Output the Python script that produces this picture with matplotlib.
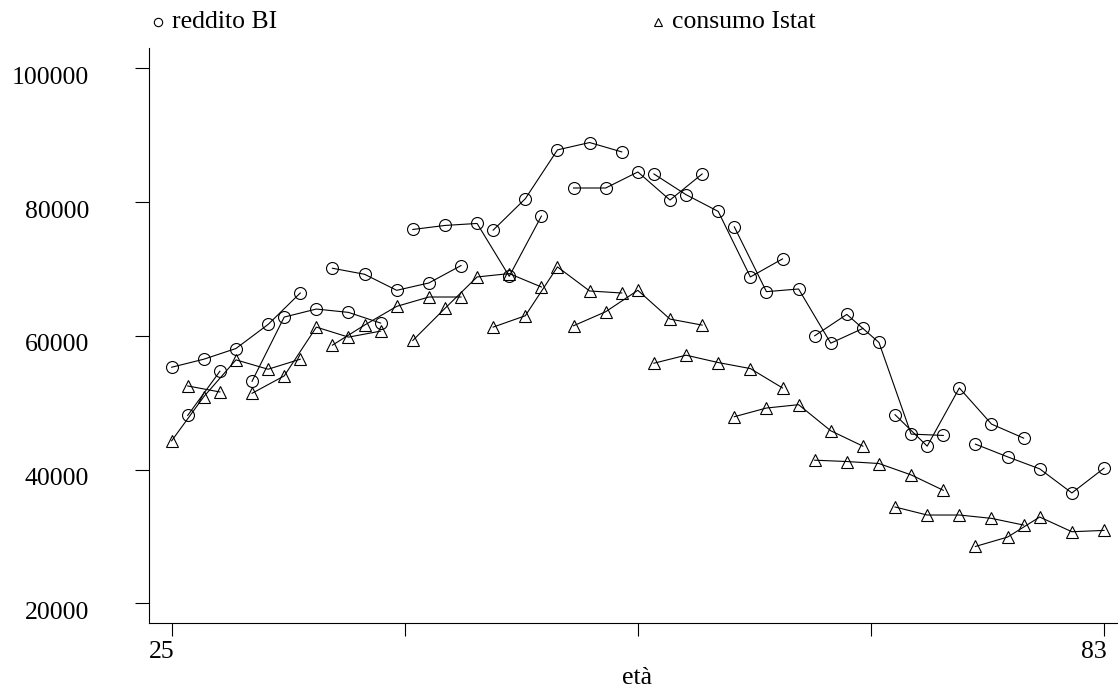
import matplotlib
matplotlib.use("Agg")
import matplotlib.pyplot as plt
import matplotlib.transforms as mtransforms
from matplotlib.lines import Line2D

plt.rcParams['font.family'] = ['Liberation Serif', 'DejaVu Serif']

# cohort ages (one list per cohort)
ages = [
    [25, 27, 29, 31, 33],
    [26, 28],
    [30, 32, 34, 36, 38],
    [35, 37, 39, 41, 43],
    [40, 42, 44, 46, 48],
    [45, 47, 49, 51, 53],
    [50, 52, 54, 56, 58],
    [55, 57, 59, 61, 63],
    [60, 62, 64, 66, 68],
    [65, 67, 69, 71, 73],
    [70, 72, 74, 76, 78],
    [75, 77, 79, 81, 83],
]

# reddito BI (circles)
reddito = [
    [55300, 56500, 58100, 61700, 66400],
    [48100, 54700],
    [53200, 62800, 64000, 63500, 61900],
    [70100, 69200, 66800, 67900, 70500],
    [75900, 76500, 76800, 68900, 77900],
    [75800, 80500, 87800, 88900, 87500],
    [82100, 82100, 84500, 80300, 84200],
    [84200, 81100, 78600, 68800, 71500],
    [76300, 66600, 67000, 58900, 61100],
    [60000, 63200, 59000, 45300, 45100],
    [48200, 43500, 52200, 46800, 44700],
    [43800, 41900, 40100, 36500, 40200],
]

# consumo Istat (triangles)
consumo = [
    [44300, 50900, 56400, 55000, 56500],
    [52500, 51600],
    [51400, 54000, 61300, 59800, 60700],
    [58600, 61600, 64400, 65800, 65800],
    [59300, 64100, 68800, 69300, 67300],
    [61300, 63000, 70300, 66700, 66400],
    [61500, 63600, 66800, 62500, 61600],
    [55900, 57100, 56000, 55100, 52200],
    [47900, 49200, 49700, 45800, 43500],
    [41400, 41200, 40900, 39200, 36900],
    [34400, 33200, 33200, 32700, 31700],
    [28500, 29900, 32900, 30700, 30900],
]

xticks = [25, 39.5, 54, 68.5, 83]
xticklabels = ['25', '', '', '', '83']
yticks = [20000, 40000, 60000, 80000, 100000]

W, H = 1118, 692
fig = plt.figure(figsize=(W / 100, H / 100), dpi=100)
ax = fig.add_axes([149 / W, (H - 623.3) / H, (W - 149) / W, (623.3 - 48) / H])

for a, r, c in zip(ages, reddito, consumo):
    ax.plot(a, r, color='black', lw=0.8, marker='o', ms=8.6,
            mfc='none', mec='black', mew=0.8)
    ax.plot(a, c, color='black', lw=0.8, marker='^', ms=9,
            mfc='none', mec='black', mew=0.8)

ax.set_xlim(23.59, 83.87)
ax.set_ylim(17009, 103035)
ax.spines['top'].set_visible(False)
ax.spines['right'].set_visible(False)
ax.spines['left'].set_linewidth(0.8)
ax.spines['bottom'].set_linewidth(0.8)

ax.set_xticks(xticks)
ax.set_xticklabels(xticklabels)
ax.set_yticks(yticks)
ax.set_yticklabels([str(v) for v in yticks])
ax.tick_params(axis='x', direction='out', length=9.4, width=0.8, pad=3, labelsize=18.5)
ax.tick_params(axis='y', direction='out', length=10, width=0.8, pad=33, labelsize=18.5)

# label offsets as in the original
dx = mtransforms.ScaledTranslation(-10 / 100, 0, fig.dpi_scale_trans)
for lab in ax.get_xticklabels():
    lab.set_transform(lab.get_transform() + dx)
dy = mtransforms.ScaledTranslation(0, -7 / 100, fig.dpi_scale_trans)
for lab in ax.get_yticklabels():
    lab.set_transform(lab.get_transform() + dy)

fig.text(637 / W, 1 - 678 / H, 'età', ha='center', va='center', fontsize=18.5)

# legend on top
fig.add_artist(Line2D([158 / W], [1 - 22 / H], transform=fig.transFigure,
                      marker='o', ms=6, mfc='none', mec='black', mew=0.8, ls='none'))
fig.text(172 / W, 1 - 22 / H, 'reddito BI', ha='left', va='center', fontsize=18.5)
fig.add_artist(Line2D([658 / W], [1 - 22 / H], transform=fig.transFigure,
                      marker='^', ms=6, mfc='none', mec='black', mew=0.8, ls='none'))
fig.text(672 / W, 1 - 22 / H, 'consumo Istat', ha='left', va='center', fontsize=18.5)

fig.savefig('out.png', dpi=100)
